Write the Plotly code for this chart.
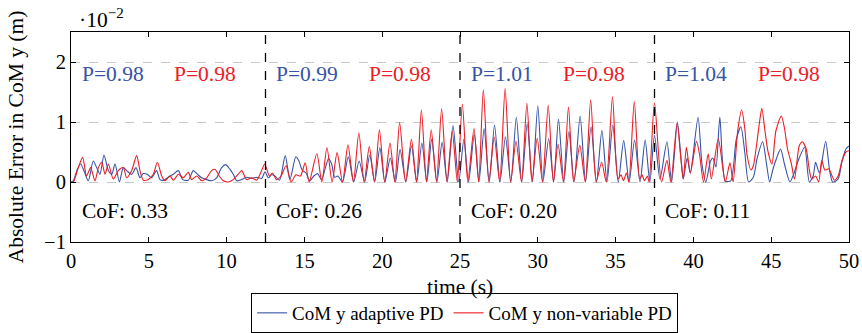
import plotly.graph_objects as go

# ---------------- data (values in units of 1e-2 m) ----------------
t_adaptive = [
    0.0, 0.15, 0.4, 0.62, 0.83, 1.11, 1.43, 1.65, 1.86, 2.12, 2.4, 2.62, 2.83, 3.11, 3.36, 3.58, 3.9, 4.18,
    4.43, 4.65, 4.9, 5.18, 5.5, 5.72, 5.97, 6.25, 6.58, 6.9, 7.18, 7.54, 7.86, 8.12, 8.4, 8.72, 9.04, 9.36,
    9.68, 9.94, 10.22, 10.43, 10.65, 10.97, 11.29, 11.61, 11.93, 12.25, 12.47, 12.68,
    12.9, 13.1, 13.4, 13.77, 14.07, 14.45, 14.65, 14.85, 15.1, 15.35, 15.6, 15.85, 16.1, 16.55, 16.75, 16.95,
    17.15, 17.45, 17.82, 18.17, 18.52, 18.87, 19.2, 19.52, 19.85, 20.17, 20.52, 20.85, 21.15, 21.52, 21.88,
    22.22, 22.55, 22.87, 23.18, 23.52, 23.85, 24.18, 24.55, 24.92,
    25.25, 25.55, 25.92, 26.22, 26.55, 26.88, 27.22, 27.57, 27.92, 28.27, 28.62, 28.97, 29.32, 29.65, 30.0,
    30.33, 30.7, 31.02, 31.33, 31.67, 32.0, 32.33, 32.72, 33.07, 33.42, 33.77, 34.12, 34.45, 34.82, 35.17,
    35.52, 35.87, 36.22, 36.57, 36.9, 37.2, 37.5,
    37.85, 38.3, 38.6, 38.97, 39.2, 39.35, 39.6, 39.8, 40.3, 40.55, 40.8, 41.1, 41.25, 41.45, 41.7, 42.05,
    42.4, 42.75, 43.05, 43.3, 43.55, 43.85, 44.1, 44.45, 44.7, 44.9, 45.1, 45.35, 45.6, 45.85, 46.2, 46.4,
    46.8, 47.15, 47.45, 47.7, 47.85, 48.1, 48.5, 48.75, 48.95, 49.3, 49.55, 49.8, 50.0,
]
v_adaptive = [
    0.0, 0.02, 0.21, 0.3, 0.19, 0.02, 0.35, 0.24, 0.13, 0.45, 0.19, 0.13, 0.3, 0.0, 0.24, 0.19, 0.13, 0.24,
    0.07, 0.14, 0.13, 0.07, 0.19, 0.04, 0.03, 0.08, 0.13, 0.19, 0.04, 0.03, 0.19, 0.13, 0.07, 0.04, 0.02, 0.07,
    0.24, 0.29, 0.21, 0.13, 0.02, 0.04, 0.08, 0.06, 0.08, 0.06, 0.17, 0.07,
    0.12, 0.1, 0.03, 0.44, 0.04, 0.42, 0.35, 0.2, 0.15, 0.02, 0.1, 0.14, 0.04, 0.39, 0.3, 0.08,
    0.1, 0.0, 0.42, 0.0, 0.35, 0.0, 0.45, 0.0, 0.57, 0.0, 0.4, 0.0, 0.54, 0.0, 0.6,
    0.0, 0.65, 0.0, 0.71, 0.0, 0.66, 0.0, 0.94, 0.0,
    0.71, 0.0, 0.8, 0.0, 0.89, 0.0, 0.95, 0.0, 0.75, 0.0, 1.08, 0.0, 0.97, 0.0, 1.27,
    0.0, 0.72, 0.0, 1.05, 0.0, 0.84, 0.0, 1.1, 0.0, 0.92, 0.0, 0.86, 0.0, 0.95, 0.0,
    0.69, 0.0, 0.7, 0.0, 0.7, 0.0, 0.78,
    0.05, 0.67, 0.0, 1.0, 0.4, 0.05, 0.4, 0.15, 1.08, 0.3, 0.0, 0.35, 0.4, 0.25, 1.08, 0.02,
    0.02, 0.7, 0.92, 0.5, 0.0, 0.08, 0.4, 0.67, 0.3, 0.0, 0.2, 0.4, 0.55, 0.3, 0.0, 0.1,
    0.4, 0.58, 0.0, 0.1, 0.33, 0.15, 0.68, 0.2, 0.0, 0.05, 0.35, 0.55, 0.6,
]

t_nonvariable = [
    0.0, 0.15, 0.47, 0.75, 1.0, 1.26, 1.54, 1.76, 1.97, 2.19, 2.4, 2.72, 3.04, 3.36, 3.58, 3.9, 4.22, 4.43,
    4.65, 4.97, 5.29, 5.55, 5.83, 6.04, 6.36, 6.58, 6.9, 7.22, 7.54, 7.75, 8.08, 8.4, 8.72, 9.04, 9.26, 9.53,
    9.79, 10.11, 10.43, 10.75, 10.97, 11.29, 11.61, 11.93, 12.25, 12.45, 12.75,
    12.95, 13.2, 13.5, 13.82, 14.15, 14.45, 14.75, 15.05, 15.3, 15.8, 16.12, 16.45, 16.78, 17.1, 17.45, 17.8,
    18.15, 18.5, 18.84, 19.17, 19.5, 19.82, 20.16, 20.5, 20.81, 21.12, 21.5, 21.88, 22.2, 22.52, 22.84, 23.15,
    23.49, 23.82, 24.16, 24.5, 24.83,
    25.15, 25.5, 25.9, 26.2, 26.5, 26.85, 27.2, 27.55, 27.9, 28.25, 28.6, 28.95, 29.3, 29.62, 29.96, 30.3,
    30.67, 31.0, 31.3, 31.65, 31.97, 32.3, 32.7, 33.05, 33.4, 33.75, 34.1, 34.4, 34.8, 35.15, 35.35, 35.5,
    35.7, 35.85, 36.2, 36.55, 36.7, 36.85, 37.05, 37.15, 37.5,
    37.95, 38.3, 38.55, 38.95, 39.2, 39.35, 39.55, 39.8, 40.2, 40.4, 40.65, 40.95, 41.15, 41.6, 42.05, 42.35,
    42.55, 42.85, 43.1, 43.3, 43.45, 43.7, 43.85, 44.05, 44.25, 44.4, 44.6, 44.8, 45.05, 45.3, 45.65, 45.85,
    46.05, 46.3, 46.5, 46.8, 47.0, 47.25, 47.45, 47.6, 47.85, 48.05, 48.25, 48.45, 48.7, 49.05, 49.3, 49.55,
    49.8, 50.0,
]
v_nonvariable = [
    0.0, 0.0, 0.24, 0.41, 0.1, 0.24, 0.02, 0.24, 0.33, 0.13, 0.3, 0.05, 0.19, 0.24, 0.07, 0.19, 0.44, 0.19,
    0.03, 0.04, 0.13, 0.33, 0.1, 0.02, 0.1, 0.03, 0.13, 0.07, 0.16, 0.04, 0.1, 0.02, 0.07, 0.19, 0.21, 0.1,
    0.02, 0.0, 0.04, 0.13, 0.19, 0.04, 0.07, 0.03, 0.19, 0.3, 0.1,
    0.15, 0.04, 0.1, 0.27, 0.0, 0.12, 0.1, 0.32, 0.0, 0.47, 0.0, 0.57, 0.0, 0.49, 0.0, 0.62,
    0.0, 0.82, 0.0, 0.59, 0.0, 0.87, 0.0, 0.65, 0.0, 0.99, 0.0, 0.71, 0.0, 1.2, 0.0, 0.87,
    0.0, 1.22, 0.0, 0.85, 0.0,
    1.3, 0.0, 0.89, 0.0, 1.54, 0.0, 0.75, 0.0, 1.56, 0.0, 0.68, 0.0, 1.31, 0.0, 0.73, 0.0,
    1.28, 0.0, 0.63, 0.0, 1.25, 0.0, 0.61, 0.0, 1.37, 0.0, 0.33, 0.0, 1.42, 0.05, 0.12, 0.02,
    0.15, 0.0, 1.34, 0.05, 0.12, 0.02, 0.1, 0.0, 1.32,
    0.0, 0.36, 0.0, 0.98, 0.38, 0.05, 0.58, 0.15, 0.68, 0.45, 0.0, 0.47, 0.05, 0.72, 0.0, 0.32,
    0.0, 0.86, 1.2, 0.9, 0.45, 0.2, 0.27, 0.6, 1.0, 1.23, 0.85, 0.5, 0.3, 0.85, 1.1, 0.9,
    0.55, 0.3, 0.05, 0.6, 0.67, 0.55, 0.2, 0.05, 0.1, 0.0, 0.36, 0.2, 0.22, 0.03, 0.1, 0.35,
    0.5, 0.52,
]

series_names = ["CoM y adaptive PD", "CoM y non-variable PD"]
phase_bounds = [12.5, 25.0, 37.5]
phase_starts = [0.0, 12.5, 25.0, 37.5]
p_adaptive = ["P=0.98", "P=0.99", "P=1.01", "P=1.04"]
p_nonvariable = ["P=0.98", "P=0.98", "P=0.98", "P=0.98"]
cof_labels = ["CoF: 0.33", "CoF: 0.26", "CoF: 0.20", "CoF: 0.11"]
x_ticks = [0, 5, 10, 15, 20, 25, 30, 35, 40, 45, 50]
y_ticks = [-1, 0, 1, 2]
x_title = "time (s)"
y_title = "Absolute Error in CoM y (m)"

BLUE = "#3654a8"
RED = "#ec1c24"
FONT = "Liberation Serif, Times New Roman, serif"
FS = 21.5

fig = go.Figure()
fig.add_trace(go.Scatter(x=t_adaptive, y=v_adaptive, mode="lines", name=series_names[0],
                         line=dict(color=BLUE, width=1.1, shape="spline", smoothing=0.7)))
fig.add_trace(go.Scatter(x=t_nonvariable, y=v_nonvariable, mode="lines", name=series_names[1],
                         line=dict(color=RED, width=1.1, shape="spline", smoothing=0.7)))

for xb in phase_bounds:
    fig.add_shape(type="line", x0=xb, x1=xb, y0=0, y1=1, xref="x", yref="paper",
                  line=dict(color="black", width=1.3, dash="dash"))

annotations = []
for i, xs in enumerate(phase_starts):
    annotations.append(dict(x=xs + 0.55, y=1.8, xref="x", yref="y", text=p_adaptive[i], showarrow=False,
                            xanchor="left", yanchor="middle", font=dict(color=BLUE, size=FS, family=FONT)))
    annotations.append(dict(x=xs + 6.5, y=1.8, xref="x", yref="y", text=p_nonvariable[i], showarrow=False,
                            xanchor="left", yanchor="middle", font=dict(color=RED, size=FS, family=FONT)))
    annotations.append(dict(x=xs + 0.55, y=-0.48, xref="x", yref="y", text=cof_labels[i], showarrow=False,
                            xanchor="left", yanchor="middle", font=dict(color="black", size=FS, family=FONT)))
annotations.append(dict(x=0.008, y=1.065, xref="paper", yref="paper", text="·10<sup>−2</sup>",
                        showarrow=False, xanchor="left", yanchor="middle",
                        font=dict(color="black", size=FS, family=FONT)))
annotations.append(dict(x=0.5, y=-0.215, xref="paper", yref="paper", text=x_title,
                        showarrow=False, xanchor="center", yanchor="middle",
                        font=dict(color="black", size=FS, family=FONT)))

fig.update_layout(
    width=862, height=333,
    margin=dict(l=71, r=13, t=32, b=91, autoexpand=False),
    plot_bgcolor="white", paper_bgcolor="white",
    font=dict(family=FONT, size=FS, color="black"),
    showlegend=True,
    legend=dict(orientation="h", xref="container", yref="container", x=0.539, y=0.0,
                xanchor="center", yanchor="bottom",
                bordercolor="black", borderwidth=1, font=dict(size=19, family=FONT),
                itemwidth=30, tracegroupgap=0),
    annotations=annotations,
)
fig.update_xaxes(range=[0, 50], tickvals=x_ticks, showgrid=False, zeroline=False, automargin=False,
                 showline=True, linecolor="black", linewidth=1, mirror="ticks",
                 ticks="inside", ticklen=5, tickcolor="black", tickfont=dict(size=20.5, family=FONT))
fig.update_yaxes(range=[-1, 2.5], tickvals=y_ticks, showgrid=True, gridcolor="#c8c8c8",
                 griddash="dash", gridwidth=1, zeroline=False, automargin=False,
                 showline=True, linecolor="black", linewidth=1, mirror="ticks",
                 ticks="inside", ticklen=5, tickcolor="black", tickfont=dict(size=20.5, family=FONT),
                 title=dict(text=y_title, standoff=14, font=dict(size=FS, family=FONT)))

fig.write_html("out.html")
